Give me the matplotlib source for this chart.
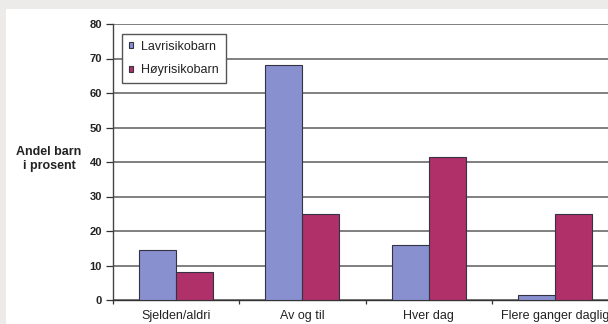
import numpy as np
import matplotlib.pyplot as plt
from matplotlib.patches import Rectangle

categories = ["Sjelden/aldri", "Av og til", "Hver dag", "Flere ganger daglig"]
lavrisiko = [14.5, 68, 16, 1.5]
hoyrisiko = [8, 25, 41.5, 25]
yticks = [0, 10, 20, 30, 40, 50, 60, 70, 80]

plt.rcParams['font.family'] = ['Liberation Sans', 'DejaVu Sans']

fig = plt.figure(figsize=(6.08, 3.24), dpi=100, facecolor="#ecebea")
# white panel behind the chart
fig.patches.append(Rectangle((6/608, 0), 1, 1 - 9/324, transform=fig.transFigure,
                             facecolor="white", edgecolor="none", zorder=-10))

ax = fig.add_axes([113/608, 24/324, 505/608, 276/324])
ax.set_facecolor("white")

x = np.arange(len(categories))
w = 0.294
ax.bar(x - w/2, lavrisiko, w, color="#8890cf", edgecolor="#333344", linewidth=0.8,
       label="Lavrisikobarn", zorder=3)
ax.bar(x + w/2, hoyrisiko, w, color="#b0306a", edgecolor="#333344", linewidth=0.8,
       label="Høyrisikobarn", zorder=3)

ax.set_xlim(-0.5, 3.5)
ax.set_ylim(0, 80)
ax.set_yticks(yticks)
ax.set_yticklabels([str(v) for v in yticks], fontsize=8, fontweight="bold", color="#222222")
ax.yaxis.grid(True, color="#6a6a6a", linewidth=1.2, zorder=0)
ax.set_axisbelow(True)
ax.tick_params(axis="y", length=5, width=0.9, color="#333333", pad=3)

ax.set_xticks(x)
ax.set_xticklabels(categories, fontsize=9, color="#222222")
ax.set_xticks(np.arange(-0.5, 4, 1), minor=True)
ax.tick_params(axis="x", which="major", length=0, pad=7)
ax.tick_params(axis="x", which="minor", length=3, width=0.9, color="#333333")

for s in ["top", "right"]:
    ax.spines[s].set_visible(False)
ax.spines["left"].set_color("#444444")
ax.spines["bottom"].set_color("#333333")
ax.spines["left"].set_linewidth(1.0)
ax.spines["bottom"].set_linewidth(1.0)

leg = ax.legend(loc="upper left", bbox_to_anchor=(0.018, 0.964), borderaxespad=0,
                fontsize=9, frameon=True, fancybox=False, framealpha=1,
                handlelength=0.35, handleheight=0.35, handletextpad=0.65,
                borderpad=0.55, labelspacing=0.9)
leg.get_frame().set_edgecolor("#555555")
leg.get_frame().set_linewidth(1.0)
for t in leg.get_texts():
    t.set_color("#222222")

fig.text(49/608, 1 - 159/324, "Andel barn\ni prosent", ha="center", va="center",
         fontsize=9, fontweight="bold", linespacing=1.15, color="#222222")

fig.savefig("out.png", dpi=100, facecolor=fig.get_facecolor())
